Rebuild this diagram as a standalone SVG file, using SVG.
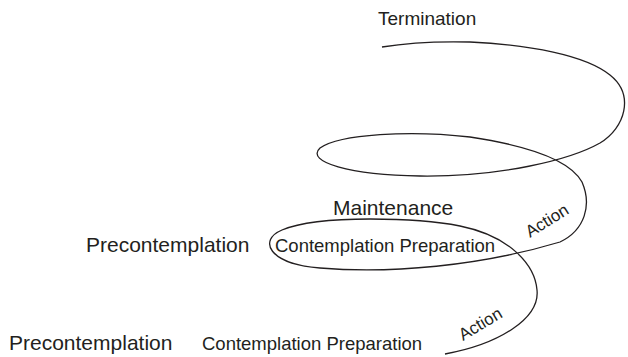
<svg xmlns="http://www.w3.org/2000/svg" width="628" height="357" viewBox="0 0 628 357">
<style>
text{font-family:"Liberation Sans",Arial,sans-serif;fill:#231f20}
.big{font-size:21px}
.mid{font-size:18.5px}
.act{font-size:17px}
.spiral{fill:none;stroke:#231f20;stroke-width:1.3}
</style>
<rect width="628" height="357" fill="#fff"/>
<g id="connectors">
<path class="spiral" d="M 445 354 C 500 344, 540 318, 537 290 C 535 265, 510 236, 460 226 C 420 218, 320 214, 282 230 C 258 240, 268 264, 320 268 C 390 274, 480 266, 560 242 C 585 230, 592 205, 582 182 C 570 160, 530 146, 470 137 C 410 130, 340 134, 320 148 C 305 162, 350 175, 420 176 C 500 177, 570 160, 600 143 C 625 128, 635 95, 610 75 C 585 55, 530 45, 470 42 C 430 41, 400 44, 382 47"/>
</g>
<g id="termination"><text class="big" x="378" y="25" style="font-size:19px">Termination</text></g>
<g id="maintenance"><text class="big" x="333" y="215">Maintenance</text></g>
<g id="precontemplation1"><text class="big" x="86" y="252">Precontemplation</text></g>
<g id="contemplation1"><text class="mid" x="275" y="252">Contemplation Preparation</text></g>
<g id="action1"><text class="act" transform="translate(530,238) rotate(-32)">Action</text></g>
<g id="precontemplation2"><text class="big" x="9" y="350">Precontemplation</text></g>
<g id="contemplation2"><text class="mid" x="202" y="350">Contemplation Preparation</text></g>
<g id="action2"><text class="act" transform="translate(463,341) rotate(-31)">Action</text></g>
</svg>
